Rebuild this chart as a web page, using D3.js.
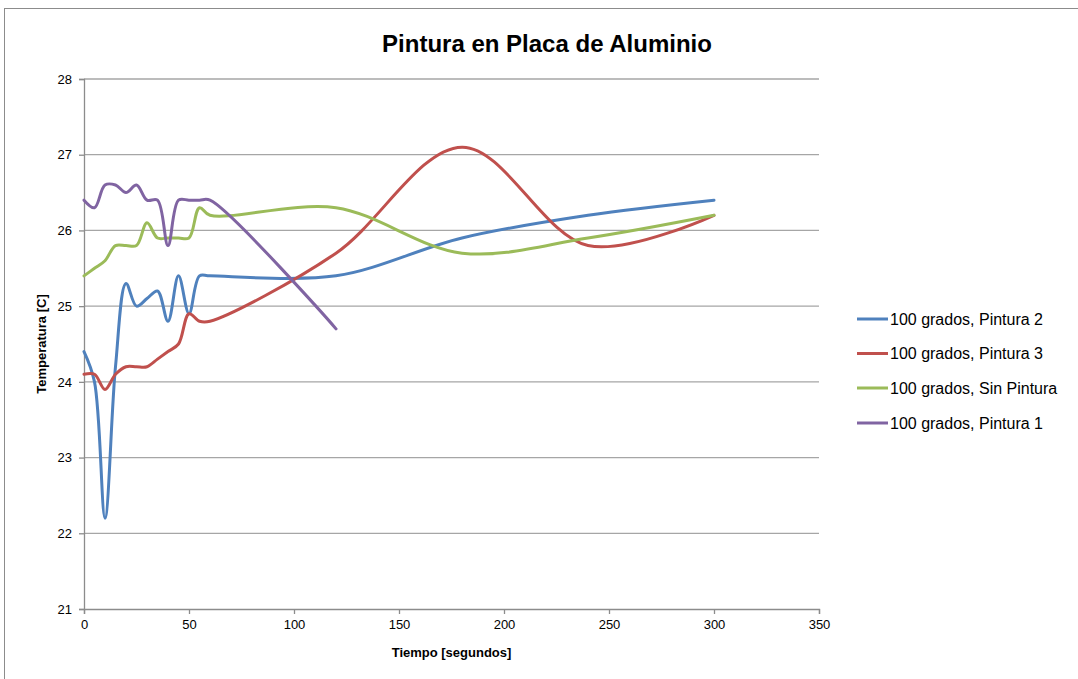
<html>
<head>
<meta charset="utf-8">
<style>
  body { margin: 0; background: #fff; }
  text { font-family: "Liberation Sans", Arial, sans-serif; fill: #000; }
</style>
</head>
<body>
<svg id="container" width="1078" height="679"></svg>
<script src="https://cdnjs.cloudflare.com/ajax/libs/d3/7.8.5/d3.min.js"></script>
<script>
// time points (seconds)
let tiempo = [0, 5, 10, 15, 20, 25, 30, 35, 40, 45, 50, 55, 60, 120, 180, 240, 300]

// temperatures [C]
let pintura2 = [24.4, 24.0, 22.2, 24.2, 25.3, 25.0, 25.1, 25.2, 24.8, 25.4, 24.9, 25.4, 25.4, 25.4, 25.9, 26.2, 26.4]
let pintura3 = [24.1, 24.1, 23.9, 24.1, 24.2, 24.2, 24.2, 24.3, 24.4, 24.5, 24.9, 24.8, 24.8, 25.7, 27.1, 25.8, 26.2]
let sinPintura = [25.4, 25.5, 25.6, 25.8, 25.8, 25.8, 26.1, 25.9, 25.9, 25.9, 25.9, 26.3, 26.2, 26.3, 25.7, 25.9, 26.2]
let tiempo1 = [0, 5, 10, 15, 20, 25, 30, 35, 40, 45, 50, 55, 60, 120]
let pintura1 = [26.4, 26.3, 26.6, 26.6, 26.5, 26.6, 26.4, 26.4, 25.8, 26.4, 26.4, 26.4, 26.4, 24.7]

let seriesNames = ["100 grados, Pintura 2", "100 grados, Pintura 3", "100 grados, Sin Pintura", "100 grados, Pintura 1"]
let seriesColors = ["#4F81BD", "#C0504D", "#9BBB59", "#8064A2"]

let xTicks = [0, 50, 100, 150, 200, 250, 300, 350]
let yTicks = [21, 22, 23, 24, 25, 26, 27, 28]

let series = [
  {name: seriesNames[0], color: seriesColors[0], xs: tiempo, ys: pintura2},
  {name: seriesNames[1], color: seriesColors[1], xs: tiempo, ys: pintura3},
  {name: seriesNames[2], color: seriesColors[2], xs: tiempo, ys: sinPintura},
  {name: seriesNames[3], color: seriesColors[3], xs: tiempo1, ys: pintura1}
]

let svg = d3.select("#container")

// chart area border
svg.append("rect")
  .attr("x", 4.5).attr("y", 8.5)
  .attr("width", 1200).attr("height", 800)
  .attr("fill", "none").attr("stroke", "#8c8c8c").attr("stroke-width", 1)

let plotLeft = 84, plotRight = 819, plotTop = 79, plotBottom = 609

let x = d3.scaleLinear().domain([0, 350]).range([plotLeft, plotRight])
let y = d3.scaleLinear().domain([21, 28]).range([plotBottom, plotTop])

// gridlines
svg.append("g").selectAll("line").data(yTicks.slice(1)).enter().append("line")
  .attr("x1", plotLeft).attr("x2", plotRight)
  .attr("y1", d => y(d)).attr("y2", d => y(d))
  .attr("stroke", "#a6a6a6").attr("stroke-width", 1.3)

// axes
let xAxis = svg.append("g").attr("transform", `translate(0,${plotBottom})`)
  .call(d3.axisBottom(x).tickValues(xTicks).tickSize(5).tickPadding(6))
let yAxis = svg.append("g").attr("transform", `translate(${plotLeft},0)`)
  .call(d3.axisLeft(y).tickValues(yTicks).tickFormat(d3.format("d")).tickSize(5).tickPadding(7))

for (let ax of [xAxis, yAxis]) {
  ax.select(".domain").attr("stroke", "#8c8c8c").attr("stroke-width", 1.3)
  ax.selectAll(".tick line").attr("stroke", "#8c8c8c").attr("stroke-width", 1.3)
  ax.selectAll(".tick text").attr("font-size", 13).attr("fill", "#000")
    .attr("font-family", "Liberation Sans, Arial, sans-serif")
}

// lines (smoothed like the spreadsheet, no loops on uneven spacing)
let line = d3.line()
  .x(d => x(d[0]))
  .y(d => y(d[1]))
  .curve(d3.curveCatmullRom.alpha(0.5))

for (let s of series) {
  let pts = s.xs.map((t, i) => [t, s.ys[i]])
  svg.append("path")
    .attr("d", line(pts))
    .attr("fill", "none")
    .attr("stroke", s.color)
    .attr("stroke-width", 3)
    .attr("stroke-linejoin", "round")
    .attr("stroke-linecap", "round")
}

// title and axis titles
svg.append("text")
  .attr("x", 547).attr("y", 52)
  .attr("text-anchor", "middle")
  .attr("font-size", 24).attr("font-weight", "bold")
  .text("Pintura en Placa de Aluminio")

svg.append("text")
  .attr("x", (plotLeft + plotRight) / 2).attr("y", 657)
  .attr("text-anchor", "middle")
  .attr("font-size", 13).attr("font-weight", "bold")
  .text("Tiempo [segundos]")

svg.append("text")
  .attr("transform", `translate(46,${(plotTop + plotBottom) / 2}) rotate(-90)`)
  .attr("text-anchor", "middle")
  .attr("font-size", 13).attr("font-weight", "bold")
  .text("Temperatura [C]")

// legend
let legend = svg.append("g")
let legendY = [319, 353.5, 388, 423]
series.forEach((s, i) => {
  legend.append("line")
    .attr("x1", 857).attr("x2", 888)
    .attr("y1", legendY[i]).attr("y2", legendY[i])
    .attr("stroke", s.color).attr("stroke-width", 3)
  legend.append("text")
    .attr("x", 890).attr("y", legendY[i] + 5.5)
    .attr("font-size", 16)
    .text(s.name)
})
</script>
</body>
</html>
